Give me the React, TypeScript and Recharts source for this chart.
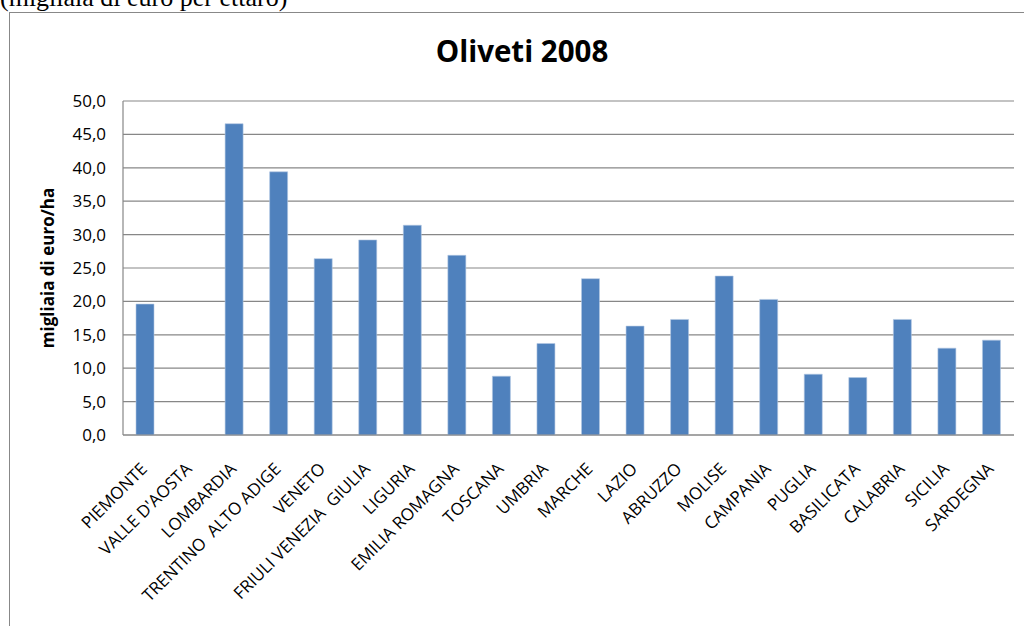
import React from "react";
import { BarChart, Bar, XAxis, YAxis, CartesianGrid } from "recharts";

const regions = [
  "PIEMONTE",
  "VALLE D'AOSTA",
  "LOMBARDIA",
  "TRENTINO  ALTO ADIGE",
  "VENETO",
  "FRIULI VENEZIA  GIULIA",
  "LIGURIA",
  "EMILIA ROMAGNA",
  "TOSCANA",
  "UMBRIA",
  "MARCHE",
  "LAZIO",
  "ABRUZZO",
  "MOLISE",
  "CAMPANIA",
  "PUGLIA",
  "BASILICATA",
  "CALABRIA",
  "SICILIA",
  "SARDEGNA",
];

const values = [
  19.6, 0, 46.6, 39.4, 26.4, 29.2, 31.4, 26.9, 8.8, 13.7,
  23.4, 16.3, 17.3, 23.8, 20.3, 9.1, 8.6, 17.3, 13.0, 14.2,
];

const yTicks = [0, 5, 10, 15, 20, 25, 30, 35, 40, 45, 50];

const title = "Oliveti 2008";
const yLabel = "migliaia di euro/ha";
const caption = "(migliaia di euro per ettaro)";

const data = regions.map((name, i) => ({ name, value: values[i] }));

const FONT = "'Open Sans', 'Noto Sans', sans-serif";
const GRID = "#878787";

const XTick = (props: any) => {
  const { x, y, payload } = props;
  const ax = x + 3;
  const ay = y + 35;
  return (
    <text
      x={ax}
      y={ay}
      transform={`rotate(-45, ${ax}, ${ay})`}
      textAnchor="end"
      fontFamily={FONT}
      fontSize={17}
      fill="#000"
      style={{ whiteSpace: "pre" }}
    >
      {payload.value}
    </text>
  );
};

const YLabel = (props: any) => {
  const { viewBox } = props;
  const cx = viewBox.x + 24;
  const cy = viewBox.y + viewBox.height / 2;
  return (
    <text
      x={cx}
      y={cy}
      transform={`rotate(-90, ${cx}, ${cy})`}
      textAnchor="middle"
      dominantBaseline="central"
      fontFamily={FONT}
      fontWeight="bold"
      fontSize={17}
      fill="#000"
    >
      {yLabel}
    </text>
  );
};

export default function App() {
  return (
    <div
      style={{
        position: "absolute",
        left: 0,
        top: 0,
        width: 1024,
        height: 626,
        overflow: "hidden",
        background: "#fff",
      }}
    >
      <svg
        width={1024}
        height={30}
        style={{ position: "absolute", left: 0, top: 0 }}
      >
        <text
          x={0}
          y={6}
          fontFamily="'Liberation Serif', 'Times New Roman', serif"
          fontSize={26}
          fill="#000"
        >
          {caption}
        </text>
      </svg>
      <div
        style={{
          position: "absolute",
          left: 9,
          top: 12,
          width: 1100,
          height: 700,
          border: "1px solid #888",
          boxSizing: "border-box",
        }}
      />
      <div style={{ position: "absolute", left: 0, top: 0 }}>
        <svg
          width={1024}
          height={100}
          style={{ position: "absolute", left: 0, top: 0 }}
        >
          <text
            x={522}
            y={62}
            textAnchor="middle"
            fontFamily={FONT}
            fontWeight="bold"
            fontSize={29.5}
            fill="#000"
          >
            {title}
          </text>
        </svg>
        <BarChart
          width={1024}
          height={626}
          data={data}
          margin={{ top: 101, right: 10, left: 23, bottom: 41 }}
          barCategoryGap={0}
        >
          <CartesianGrid vertical={false} stroke={GRID} strokeWidth={1.2} />
          <XAxis
            dataKey="name"
            interval={0}
            height={150}
            tick={<XTick />}
            tickLine={false}
            tickSize={0}
            tickMargin={0}
            axisLine={{ stroke: GRID, strokeWidth: 1.2 }}
          />
          <YAxis
            width={100}
            domain={[0, 50]}
            ticks={yTicks}
            interval={0}
            tickFormatter={(v: number) => v.toFixed(1).replace(".", ",")}
            tick={{ fontFamily: FONT, fontSize: 17, fill: "#000" }}
            tickLine={false}
            tickSize={0}
            tickMargin={17}
            axisLine={{ stroke: GRID, strokeWidth: 1.2 }}
            label={<YLabel />}
          />
          <Bar
            dataKey="value"
            fill="#4F81BD"
            stroke="#b4c8e2"
            strokeWidth={0.6}
            barSize={18}
            isAnimationActive={false}
          />
        </BarChart>
      </div>
    </div>
  );
}
